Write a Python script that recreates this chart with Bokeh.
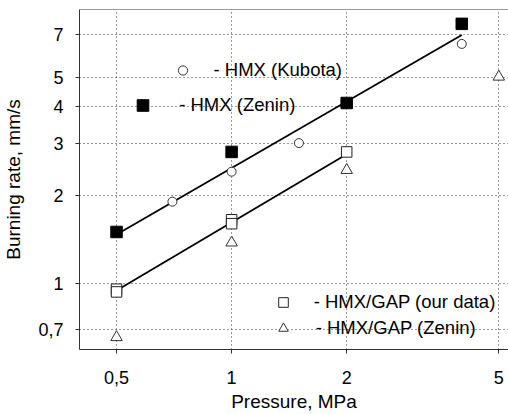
from bokeh.plotting import figure
from bokeh.models import (Range1d, FixedTicker, CustomJSTickFormatter, Legend,
                          LegendItem, Span)
from bokeh.embed import file_html
from bokeh.resources import INLINE

# HMX (Kubota) - open circles
kub_p = [0.7, 1.0, 1.5, 4.0]
kub_r = [1.9, 2.4, 3.0, 6.5]
# HMX (Zenin) - filled squares
zen_p = [0.5, 1.0, 2.0, 4.0]
zen_r = [1.5, 2.8, 4.1, 7.6]
# HMX/GAP (our data) - open squares
gap_p = [0.5, 0.5, 1.0, 1.0, 2.0]
gap_r = [0.96, 0.94, 1.65, 1.6, 2.8]
# HMX/GAP (Zenin) - open triangles
gapz_p = [0.5, 1.0, 2.0, 5.0]
gapz_r = [0.66, 1.38, 2.43, 5.03]
# fitted lines
fit_hmx_p = [0.5, 4.0]
fit_hmx_r = [1.47, 6.97]
fit_gap_p = [0.5, 2.0]
fit_gap_r = [0.95, 2.75]

x_ticks = [0.5, 1, 2, 5]
y_ticks = [0.7, 1, 2, 3, 4, 5, 7]

FONT = "Liberation Sans"
FL, FB = 78, 351   # frame left / bottom in page px

p = figure(width=508, height=414, x_axis_type="log", y_axis_type="log",
           x_range=Range1d(0.4, 5.3), y_range=Range1d(0.6, 8.5),
           output_backend="svg", toolbar_location=None,
           min_border_left=FL, min_border_right=0, min_border_top=9,
           min_border_bottom=414 - FB)
p.outline_line_color = None
p.background_fill_color = "white"

fmt = CustomJSTickFormatter(code="return String(tick).replace('.', ',');")

p.xaxis.ticker = FixedTicker(ticks=x_ticks, minor_ticks=[])
p.yaxis.ticker = FixedTicker(ticks=y_ticks, minor_ticks=[])
p.xaxis.formatter = fmt
p.yaxis.formatter = fmt
for ax in (p.xaxis, p.yaxis):
    ax.major_tick_out = 4
    ax.major_tick_in = 0
    ax.minor_tick_out = 0
    ax.minor_tick_in = 0
    ax.axis_line_color = "#333333"
    ax.major_tick_line_color = "#333333"
    ax.major_label_text_font = FONT
    ax.major_label_text_font_size = "18px"
    ax.major_label_text_color = "black"
    ax.axis_label_text_font = FONT
    ax.axis_label_text_font_size = "19px"
    ax.axis_label_text_font_style = "normal"
    ax.axis_label_text_color = "black"
p.xaxis.major_label_standoff = 17
p.yaxis.major_label_standoff = 12
p.xaxis.axis_label = "Pressure, MPa"
p.yaxis.axis_label = "Burning rate, mm/s"
p.xaxis.axis_label_standoff = 4
p.yaxis.axis_label_standoff = 11

p.xgrid.ticker = FixedTicker(ticks=x_ticks, minor_ticks=[])
p.ygrid.ticker = FixedTicker(ticks=y_ticks, minor_ticks=[])
for g in (p.xgrid, p.ygrid):
    g.grid_line_color = "#333333"
    g.grid_line_dash = "1 3"
    g.grid_line_width = 1

p.add_layout(Span(location=8.5, dimension="width", line_color="#333333", line_width=1))

p.line(fit_hmx_p, fit_hmx_r, line_color="black", line_width=1.8)
p.line(fit_gap_p, fit_gap_r, line_color="black", line_width=1.8)

r_kub = p.scatter(kub_p, kub_r, marker="circle", size=9, fill_color="white",
                  line_color="#333333", line_width=1)
r_zen = p.scatter(zen_p, zen_r, marker="square", size=11.5, fill_color="black",
                  line_color="black", line_width=1)
r_gap = p.scatter(gap_p, gap_r, marker="square", size=10.5, fill_color="white",
                  line_color="#222222", line_width=1)
r_gapz = p.scatter(gapz_p, gapz_r, marker="triangle", size=11.5, fill_color="white",
                   line_color="#333333", line_width=1)

def add_leg(label, rend, cx, cy, gw, standoff, gh=30):
    leg = Legend(items=[LegendItem(label=label, renderers=[rend])],
                 location=(cx - FL - gw / 2, FB - cy - gh / 2),
                 glyph_width=gw, glyph_height=gh, label_height=gh,
                 label_standoff=standoff, padding=0, margin=0, spacing=0,
                 border_line_color=None, background_fill_alpha=0,
                 label_text_font=FONT, label_text_font_size="18.5px",
                 label_text_color="black")
    p.add_layout(leg, "center")

add_leg("- HMX (Kubota)", r_kub, 181, 71.7, 23, 20)
add_leg("- HMX (Zenin)", r_zen, 141.7, 107.3, 29, 22)
add_leg("- HMX/GAP (our data)", r_gap, 281.7, 303.7, 24, 19)
add_leg("- HMX/GAP (Zenin)", r_gapz, 281.7, 330.3, 24, 21)

open("out.html", "w").write(file_html(p, INLINE))
